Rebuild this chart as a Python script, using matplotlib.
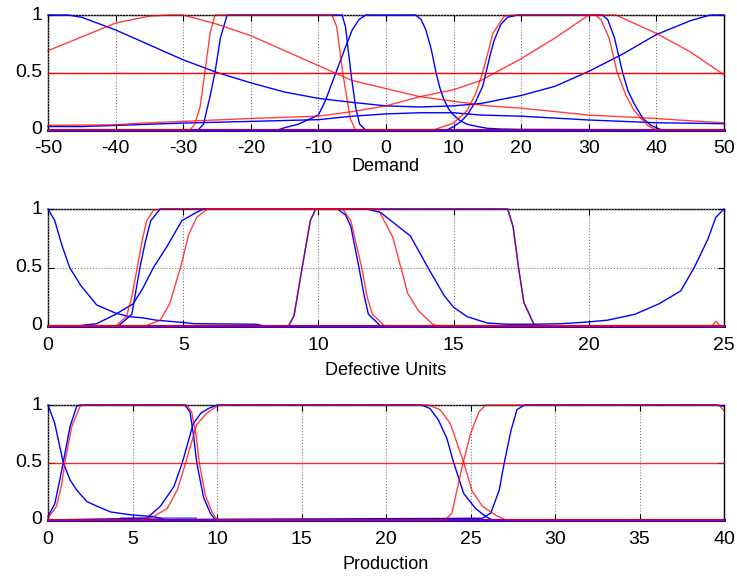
import matplotlib
matplotlib.use("Agg")
import matplotlib.pyplot as plt

plt.rcParams["font.family"] = ["Liberation Sans", "DejaVu Sans"]
plt.rcParams["axes.unicode_minus"] = False

# ---- Demand panel ----
dem_ticks = [-50, -40, -30, -20, -10, 0, 10, 20, 30, 40, 50]
dem_half = ([-50, 50], [0.5, 0.5])
dem_zero = ([-50, 50], [0, 0])
dem_red_wide = ([-50, -45, -40, -35, -32, -30, -25, -20, -15, -10, -5, 0, 5, 10, 15, 20, 25, 30, 35, 40, 45, 50],
                [0.69, 0.81, 0.93, 0.99, 1, 1, 0.92, 0.82, 0.69, 0.56, 0.43, 0.36, 0.29, 0.25, 0.21, 0.19, 0.16, 0.13, 0.115, 0.10, 0.08, 0.063])
dem_red_rise = ([-50, -40, -36, -30, -20, -10, -5, 0, 5, 10, 14, 20, 25, 30, 34, 40, 45, 50],
                [0.04, 0.045, 0.06, 0.075, 0.10, 0.12, 0.16, 0.21, 0.29, 0.35, 0.43, 0.62, 0.8, 1, 1, 0.84, 0.68, 0.48])
dem_red_trap = ([-50, -29, -28.3, -27.5, -26.8, -26, -25.3, -8, -7.3, -6.4, -5.3, -4.5, 50],
                [0, 0, 0.05, 0.2, 0.5, 0.85, 1, 1, 0.9, 0.5, 0.1, 0, 0])
dem_red_sig = ([-50, 7, 10, 12, 13.3, 14.3, 15.2, 15.8, 17.5, 19, 31, 31.8, 33, 34.2, 35.5, 36.7, 38.7, 40, 50],
               [0, 0, 0.06, 0.17, 0.32, 0.5, 0.7, 0.84, 0.99, 1, 1, 0.96, 0.8, 0.5, 0.3, 0.17, 0.04, 0, 0])
dem_blue_u = ([-50, -47, -45, -40, -35, -30, -25, -20, -15, -10, -5, 0, 5, 10, 14, 20, 25, 30, 35, 40, 45, 48, 50],
              [1, 1, 0.98, 0.87, 0.74, 0.61, 0.5, 0.41, 0.33, 0.275, 0.24, 0.21, 0.2, 0.21, 0.23, 0.3, 0.38, 0.51, 0.66, 0.83, 0.95, 1, 1])
dem_blue_hump = ([-50, -45, -40, -35, -30, -20, -10, -5, 0, 5, 10, 14, 20, 30, 40, 50],
                 [0.03, 0.03, 0.04, 0.05, 0.06, 0.075, 0.09, 0.12, 0.14, 0.15, 0.15, 0.13, 0.12, 0.087, 0.063, 0.055])
dem_blue_trap = ([-50, -27.8, -27, -26, -25.3, -24.5, -23.5, -6.5, -6, -5.2, -4.5, -3.9, -3, 50],
                 [0, 0, 0.05, 0.3, 0.5, 0.8, 1, 1, 0.9, 0.5, 0.2, 0.05, 0, 0])
dem_blue_bell = ([-50, -16, -15, -13, -11.5, -10, -9, -7.4, -6, -5, -4, -3, 4.4, 5.2, 5.9, 6.7, 7.4, 8, 8.6, 9.3, 10, 11, 12, 13.5, 15, 17, 20, 50],
                 [0, 0, 0.02, 0.05, 0.09, 0.13, 0.25, 0.5, 0.72, 0.87, 0.96, 1, 1, 0.96, 0.87, 0.7, 0.5, 0.36, 0.26, 0.18, 0.13, 0.08, 0.05, 0.03, 0.015, 0.008, 0.005, 0])
dem_blue_sig = ([-50, 9, 10, 11, 12, 13.3, 14.3, 14.8, 15.4, 16, 17, 18, 19.5, 32, 32.8, 33.8, 35, 35.8, 36.7, 38, 39.2, 40.8, 50],
                [0, 0, 0.03, 0.07, 0.13, 0.25, 0.38, 0.5, 0.65, 0.78, 0.92, 0.98, 1, 1, 0.96, 0.8, 0.5, 0.34, 0.23, 0.1, 0.04, 0, 0])

# ---- Defective Units panel ----
def_ticks = [0, 5, 10, 15, 20, 25]
def_zero = ([0, 25], [0, 0])
def_blue_drop = ([0, 0.25, 0.5, 0.8, 1.2, 1.8, 2.5, 3, 3.5, 4, 5, 5.4, 7.7, 8, 25],
                 [1, 0.9, 0.7, 0.5, 0.35, 0.18, 0.11, 0.08, 0.07, 0.05, 0.03, 0.02, 0.015, 0, 0])
def_red_a = ([0, 2.5, 2.9, 3.1, 3.3, 3.5, 3.65, 3.9, 4.2, 10.9, 11.2, 11.4, 11.6, 11.8, 12.0, 12.45, 25],
             [0, 0, 0.08, 0.25, 0.5, 0.75, 0.9, 0.99, 1, 1, 0.9, 0.7, 0.5, 0.25, 0.1, 0, 0])
def_blue_a = ([0, 2.6, 3.1, 3.25, 3.4, 3.6, 3.8, 4.15, 10.7, 11.0, 11.2, 11.5, 11.7, 11.85, 12.3, 25],
              [0, 0, 0.1, 0.3, 0.5, 0.72, 0.9, 1, 1, 0.95, 0.85, 0.5, 0.25, 0.1, 0, 0])
def_blue_b = ([0, 1.05, 1.8, 2.5, 3.15, 3.5, 3.9, 4.4, 4.95, 5.4, 5.75, 11.8, 12.3, 13.4, 14.05, 14.65, 15, 15.5, 16.25, 17, 18, 19, 20, 20.7, 21.7, 22.6, 23.4, 23.9, 24.4, 24.7, 25],
              [0, 0, 0.02, 0.1, 0.19, 0.32, 0.5, 0.68, 0.9, 0.96, 1, 1, 0.97, 0.77, 0.5, 0.26, 0.16, 0.08, 0.025, 0.015, 0.015, 0.02, 0.035, 0.05, 0.1, 0.19, 0.3, 0.5, 0.74, 0.93, 1])
def_red_b = ([0, 3.6, 4.15, 4.5, 4.9, 5.2, 5.5, 5.9, 12.2, 12.75, 13.05, 13.3, 13.7, 14.2, 14.4, 25],
             [0, 0, 0.05, 0.19, 0.5, 0.78, 0.93, 1, 1, 0.76, 0.5, 0.28, 0.13, 0.02, 0, 0])
def_both = ([0, 8.9, 9.1, 9.4, 9.7, 9.9, 17, 17.2, 17.4, 17.6, 18, 25],
            [0, 0, 0.09, 0.5, 0.9, 1, 1, 0.85, 0.5, 0.2, 0, 0])
def_red_blip = ([0, 24.55, 24.7, 24.85, 25], [0, 0, 0.04, 0, 0])

# ---- Production panel ----
pro_ticks = [0, 5, 10, 15, 20, 25, 30, 35, 40]
pro_half = ([0, 40], [0.5, 0.5])
pro_zero = ([0, 40], [0, 0])
pro_blue_drop = ([0, 0.4, 0.9, 1.3, 1.7, 2.3, 2.9, 3.7, 5, 6.25, 7, 40],
                 [1, 0.84, 0.5, 0.35, 0.26, 0.16, 0.12, 0.07, 0.043, 0.03, 0, 0])
pro_blue_a = ([0, 0.4, 0.7, 0.9, 1.3, 1.7, 1.9, 8.1, 8.4, 8.6, 8.8, 9.2, 9.6, 9.9, 40],
              [0.03, 0.14, 0.35, 0.5, 0.81, 0.99, 1, 1, 0.94, 0.75, 0.5, 0.2, 0.06, 0, 0])
pro_red_a = ([0, 0.5, 0.8, 1.0, 1.4, 1.9, 2.1, 8.2, 8.5, 8.75, 8.95, 9.3, 9.7, 10, 40],
             [0.015, 0.12, 0.3, 0.5, 0.81, 0.99, 1, 1, 0.94, 0.75, 0.5, 0.22, 0.07, 0, 0])
pro_blue_b = ([0, 5.85, 6.65, 7.45, 7.95, 8.6, 9.05, 9.5, 10, 22.1, 22.6, 23.1, 23.6, 24, 24.6, 25.3, 25.9, 26.3, 40],
              [0, 0.015, 0.12, 0.29, 0.5, 0.84, 0.93, 0.97, 1, 1, 0.97, 0.87, 0.71, 0.5, 0.23, 0.1, 0.03, 0, 0])
pro_red_b = ([0, 5.45, 6.25, 7.05, 7.65, 8.15, 8.8, 9.4, 10, 10.3, 22.5, 23.2, 23.8, 24.6, 25.1, 25.7, 26.5, 27.1, 40],
             [0, 0, 0.03, 0.1, 0.26, 0.5, 0.83, 0.93, 0.99, 1, 1, 0.96, 0.84, 0.5, 0.25, 0.12, 0.04, 0, 0])
pro_red_c = ([0, 23.5, 23.9, 24.5, 25, 25.5, 25.9, 39.7, 40],
             [0, 0, 0.06, 0.46, 0.75, 0.94, 1, 1, 0.95])
pro_blue_c = ([0, 25.7, 26.2, 26.7, 27, 27.4, 27.75, 28.2, 39.5, 40],
              [0, 0.015, 0.06, 0.26, 0.5, 0.78, 0.96, 1, 1, 0.99])
pro_blue_floor = ([4.3, 8.7], [0.015, 0.015])

RED = "#ff0000"
BLUE = "#0000ff"


def curve(ax, data, color, lw=1.0, alpha=1.0):
    x, y = data
    ax.plot(x, y, color=color, lw=lw, alpha=alpha, clip_on=False, solid_joinstyle="round")


def style(ax, ticks, label, pad, labelpad):
    ax.set_xlim(ticks[0], ticks[-1])
    ax.set_ylim(0, 1)
    ax.set_xticks(ticks)
    ax.set_yticks([0, 0.5, 1])
    ax.set_yticklabels(["0", "0.5", "1"], va="center")
    ax.grid(True, linestyle=":", color="#808080", lw=0.8)
    ax.tick_params(direction="in", length=4, width=0.8, top=True, right=True,
                   labelsize=14, colors="black")
    ax.tick_params(axis="x", pad=pad)
    ax.tick_params(axis="y", pad=4)
    ax.set_xlabel(label, fontsize=13, labelpad=labelpad)
    for s in ax.spines.values():
        s.set_linewidth(1.0)
        s.set_zorder(1)


fig = plt.figure(figsize=(7.37, 5.76), dpi=100)
left, width = 48 / 737, 676 / 737
ax1 = fig.add_axes([left, 1 - 130 / 576, width, 115 / 576])
ax2 = fig.add_axes([left, 1 - 326 / 576, width, 117 / 576])
ax3 = fig.add_axes([left, 1 - 520 / 576, width, 115 / 576])

# Demand
curve(ax1, dem_zero, BLUE, lw=2.2)
curve(ax1, dem_zero, RED, lw=1.6, alpha=0.5)
for d in (dem_blue_u, dem_blue_hump, dem_blue_trap, dem_blue_bell, dem_blue_sig):
    curve(ax1, d, BLUE)
for d in (dem_red_wide, dem_red_rise, dem_red_trap, dem_red_sig):
    curve(ax1, d, RED, alpha=0.75)
curve(ax1, dem_half, RED)
style(ax1, dem_ticks, "Demand", 7, 1)

# Defective Units
curve(ax2, def_zero, BLUE, lw=2.2)
curve(ax2, def_zero, RED, lw=1.6, alpha=0.6)
for d in (def_blue_drop, def_blue_a, def_blue_b, def_both):
    curve(ax2, d, BLUE)
for d in (def_red_a, def_red_b, def_red_blip):
    curve(ax2, d, RED, alpha=0.75)
curve(ax2, def_both, RED, alpha=0.5)
style(ax2, def_ticks, "Defective Units", 8, 6)

# Production
curve(ax3, pro_zero, BLUE, lw=2.2)
curve(ax3, pro_zero, RED, lw=1.6, alpha=0.5)
curve(ax3, pro_blue_floor, BLUE, lw=2.0, alpha=0.5)
for d in (pro_blue_drop, pro_blue_a, pro_blue_b, pro_blue_c):
    curve(ax3, d, BLUE)
for d in (pro_red_a, pro_red_b, pro_red_c):
    curve(ax3, d, RED, alpha=0.75)
curve(ax3, pro_half, RED, alpha=0.8)
style(ax3, pro_ticks, "Production", 8, 6)

fig.savefig("out.png", dpi=100)
